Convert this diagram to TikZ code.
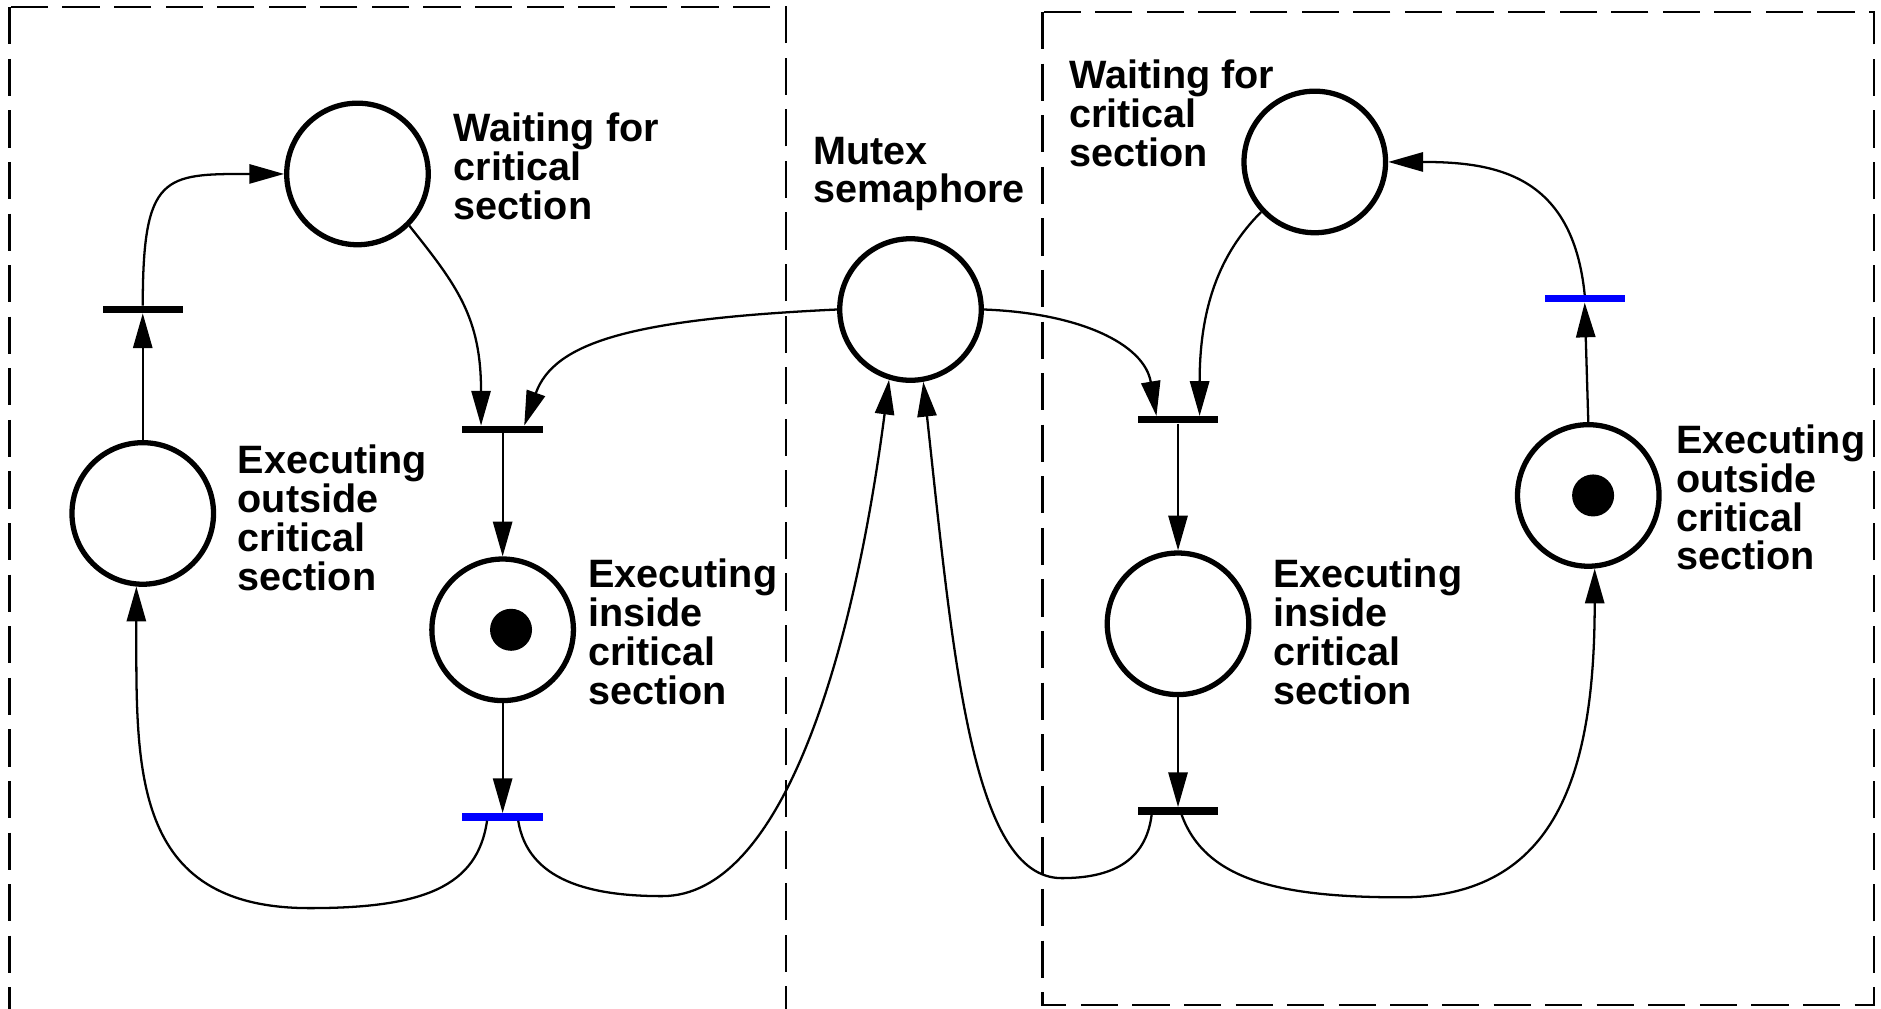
\documentclass[tikz,border=0pt]{standalone}
\usepackage{fontspec}
\setmainfont{Liberation Sans}
\usetikzlibrary{arrows.meta}
\begin{document}
\begin{tikzpicture}[x=1pt,y=-1pt,
  place/.style={circle,draw,line width=4.4pt,minimum size=118pt,inner sep=0pt},
  token/.style={circle,fill=black,minimum size=35pt,inner sep=0pt},
  trans/.style={rectangle,fill=black,minimum width=67pt,minimum height=6pt,inner sep=0pt},
  btrans/.style={trans,fill=blue},
  arc/.style={line width=1.9pt,-{Triangle[length=29pt,width=16pt]}},
  lbl/.style={anchor=north west,inner sep=0pt,align=left,font=\fontsize{33}{32.3}\selectfont\bfseries},
  box/.style={line width=1.9pt,dash pattern=on 31pt off 12pt}]
\path[use as bounding box] (0,0) rectangle (1568,841);
\begin{scope}
\clip (0,0) rectangle (1568,841);
\draw[box] (8,6) rectangle (655,880);
\draw[box] (869,10) rectangle (1562,838);
\end{scope}

% places
\node[place] (Lwait) at (298,145) {};
\node[place] (Lout) at (119,428) {};
\node[place] (Lin) at (419,525) {};
\node[token] (Lintok) at (426,525) {};
\node[place] (Mutex) at (759,258) {};
\node[place] (Rwait) at (1096,135) {};
\node[place] (Rin) at (982,520) {};
\node[place] (Rout) at (1324,413) {};
\node[token] (Routtok) at (1328,413) {};

% transitions
\node[trans] (Lt1) at (119,258) {};
\node[trans] (Lt2) at (419,358) {};
\node[btrans] (Lt3) at (419,681) {};
\node[trans] (Rt2) at (982,350) {};
\node[trans] (Rt3) at (982,676) {};
\node[btrans] (Rt1) at (1321,249) {};

% labels
\node[lbl] (LwaitL) at (378,94) {Waiting for\\critical\\section};
\node[lbl] (LoutL) at (198,371) {Executing\\outside\\critical\\section};
\node[lbl] (LinL) at (490,466) {Executing\\inside\\critical\\section};
\node[lbl] (MutexL) at (678,114) {Mutex\\semaphore};
\node[lbl] (RwaitL) at (891,50) {Waiting for\\critical\\section};
\node[lbl] (RoutL) at (1397,354) {Executing\\outside\\critical\\section};
\node[lbl] (RinL) at (1061,466) {Executing\\inside\\critical\\section};

% waypoints
\coordinate (Lb1) at (258,757);
\coordinate (Lb2) at (552,747);
\coordinate (Rb1) at (885,732);
\coordinate (Rb2) at (1168,748);

% left process
\draw[arc] (Lout.north) -- (Lt1.south);
\draw[arc] (Lt1.north) .. controls +(0,-110) and +(-100,0) .. (Lwait.west);
\draw[arc] (Lwait.-45) .. controls +(40,50) and +(0,-90) .. ([xshift=-18pt]Lt2.north);
\draw[arc] (Mutex.west) .. controls +(-170,8) and +(25,-70) .. ([xshift=18pt]Lt2.north);
\draw[arc] (Lt2.south) -- (Lin.north);
\draw[arc] (Lin.south) -- (Lt3.north);
\draw[arc] ([xshift=-13pt]Lt3.south) .. controls +(-8,55) and +(95,0) .. (Lb1) .. controls +(-150,0) and +(0,150) .. (Lout.-95);
\draw[arc] ([xshift=13pt]Lt3.south) .. controls +(8,50) and +(-60,0) .. (Lb2) .. controls +(100,0) and +(-30,230) .. (Mutex.-107);

% right process
\draw[arc] ([xshift=-22pt]Rt3.south) .. controls +(-5,40) and +(40,0) .. (Rb1) .. controls +(-75,0) and +(25,230) .. (Mutex.-80);
\draw[arc] ([xshift=3pt]Rt3.south) .. controls +(20,55) and +(-100,0) .. (Rb2) .. controls +(130,0) and +(0,170) .. (Rout.-85);
\draw[arc] (Rout.north) -- (Rt1.south);
\draw[arc] (Rt1.north) .. controls +(-10,-100) and +(90,0) .. (Rwait.east);
\draw[arc] (Rwait.-137) .. controls +(-35,35) and +(0,-90) .. ([xshift=18pt]Rt2.north);
\draw[arc] (Mutex.east) .. controls +(80,3) and +(-10,-60) .. ([xshift=-18pt]Rt2.north);
\draw[arc] (Rt2.south) -- (Rin.north);
\draw[arc] (Rin.south) -- (Rt3.north);
\end{tikzpicture}
\end{document}
